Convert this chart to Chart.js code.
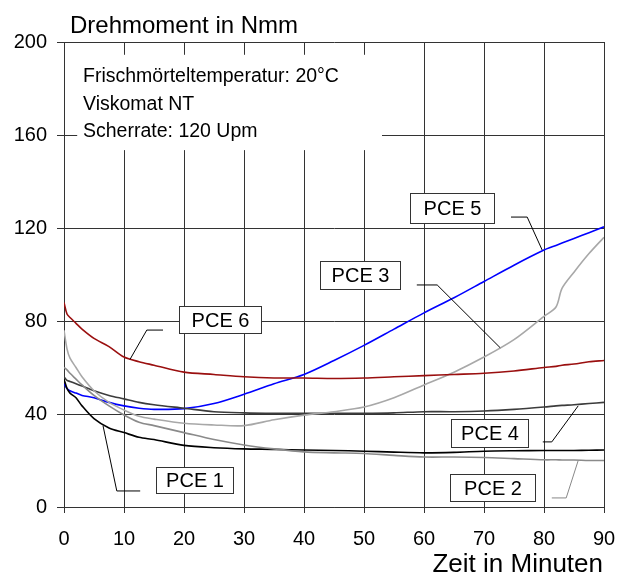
<!DOCTYPE html>
<html lang="de">
<head>
    <meta charset="UTF-8">
    <title>Drehmoment Viskomat</title>
    <script src="https://cdn.jsdelivr.net/npm/chart.js"></script>
    <style>
        body {
            margin: 0;
            background-color: #ffffff;
            font-family: "Liberation Sans", Arial, sans-serif;
        }
        #drehmomentChart {
            display: block;
        }
    </style>
</head>
<body>

<canvas id="drehmomentChart" width="617" height="576"></canvas>

<script>
    // Zeitpunkte in Minuten
    const minuten = [0, 0.5, 1, 2, 3, 5, 7.5, 10, 12.5, 15, 20, 25, 30, 35, 40, 45, 50, 55, 60, 65, 70, 75, 80, 82, 83, 85, 87.5, 90];

    // Drehmoment in Nmm je Fliessmittel
    const pce1 = [55, 51, 49, 47, 43.5, 38, 34, 32, 30, 29, 26.5, 25.5, 25, 24.8, 24.5, 24.3, 24, 23.6, 23.3, 23.5, 24, 24.2, 24.3, 24.3, 24.3, 24.3, 24.4, 24.5];
    const pce2 = [60, 59, 57.5, 55, 52.5, 48, 43.5, 39.6, 36.5, 35, 32, 29, 26.7, 25, 23.7, 23.3, 23, 22.2, 21.5, 21.5, 21.3, 20.8, 20.3, 20.3, 20.2, 20.2, 20, 20];
    const pce3 = [76, 68, 64, 60, 56, 50, 45, 41.7, 39, 37.8, 36, 35.3, 35, 37.5, 39.5, 41, 43, 47, 52.5, 58, 64.5, 72, 82, 86, 94, 101, 109, 116];
    const pce4 = [56, 54.5, 54, 53, 52, 50, 48, 46.5, 45, 44, 42.5, 41, 40.5, 40.3, 40.3, 40.3, 40.3, 40.5, 41, 41, 41.3, 42, 43, 43.5, 43.7, 44, 44.5, 45];
    const pce5 = [53, 51, 50, 49, 48, 47, 45, 43.5, 42.5, 42, 42.3, 44.5, 48.5, 53, 57, 63, 69.5, 76.5, 83.5, 90, 97, 104, 110.5, 112.5, 113.5, 115.5, 118, 120.5];
    const pce6 = [88, 83, 81.5, 79, 76.5, 72.5, 69, 64.5, 62.5, 61, 58, 57, 56, 55.5, 55.5, 55.3, 55.5, 56, 56.5, 57, 57.5, 58.5, 60, 60.5, 61, 61.5, 62.5, 63];

    const xTicks = [0, 10, 20, 30, 40, 50, 60, 70, 80, 90];
    const yTicks = [0, 40, 80, 120, 160, 200];

    const hinweise = ['Frischmörteltemperatur: 20°C', 'Viskomat NT', 'Scherrate: 120 Upm'];

    // Beschriftungen der Kurven (Kasten und Hinweislinie in Achsenwerten)
    const kurvenLabels = [
        { text: 'PCE 5', box: [57.7, 135, 71.7, 122], line: [[74.5, 124.7], [77.2, 124.7], [79.7, 110.5]], color: '#000' },
        { text: 'PCE 3', box: [42.7, 105.8, 56, 93.8], line: [[58.8, 95.5], [62.2, 95.5], [72.7, 68.5]], color: '#000' },
        { text: 'PCE 6', box: [19.2, 86.5, 32.8, 74.8], line: [[16.5, 76.1], [13.8, 76.1], [11, 63.5]], color: '#000' },
        { text: 'PCE 1', box: [15.3, 17.2, 28.2, 6], line: [[12.7, 6.9], [8.8, 6.9], [6.5, 35]], color: '#000' },
        { text: 'PCE 4', box: [64.5, 37.8, 77.3, 25.8], line: [[79.8, 28], [81.3, 28], [85.7, 43.5]], color: '#000' },
        { text: 'PCE 2', box: [64.3, 14.2, 78.5, 2.6], line: [[81.3, 3.9], [83.7, 3.9], [85.7, 20]], color: '#888' }
    ];

    function serie(werte) {
        return werte.map((v, i) => ({ x: minuten[i], y: v }));
    }

    const beschriftung = {
        id: 'beschriftung',
        afterDatasetsDraw(chart) {
            const ctx = chart.ctx;
            const xs = chart.scales.x;
            const ys = chart.scales.y;
            ctx.save();

            // weisser Kasten mit Versuchsangaben
            ctx.fillStyle = '#ffffff';
            const bx1 = xs.getPixelForValue(2.2), by1 = ys.getPixelForValue(194.5);
            const bx2 = xs.getPixelForValue(53), by2 = ys.getPixelForValue(153.5);
            ctx.fillRect(bx1, by1, bx2 - bx1, by2 - by1);
            ctx.fillStyle = '#000';
            ctx.font = '19.5px "Liberation Sans", Arial, sans-serif';
            ctx.textAlign = 'left';
            ctx.textBaseline = 'alphabetic';
            hinweise.forEach((t, i) => ctx.fillText(t, 83, 82 + i * 27.5));

            // Kurvenbeschriftungen
            kurvenLabels.forEach(l => {
                ctx.strokeStyle = l.color;
                ctx.lineWidth = 1;
                ctx.beginPath();
                l.line.forEach((p, i) => {
                    const px = xs.getPixelForValue(p[0]);
                    const py = ys.getPixelForValue(p[1]);
                    if (i === 0) ctx.moveTo(px, py); else ctx.lineTo(px, py);
                });
                ctx.stroke();

                const x1 = Math.round(xs.getPixelForValue(l.box[0])) + 0.5;
                const y1 = Math.round(ys.getPixelForValue(l.box[1])) + 0.5;
                const x2 = Math.round(xs.getPixelForValue(l.box[2])) + 0.5;
                const y2 = Math.round(ys.getPixelForValue(l.box[3])) + 0.5;
                ctx.fillStyle = '#ffffff';
                ctx.fillRect(x1, y1, x2 - x1, y2 - y1);
                ctx.strokeStyle = '#333';
                ctx.strokeRect(x1, y1, x2 - x1, y2 - y1);
                ctx.fillStyle = '#000';
                ctx.font = '20px "Liberation Sans", Arial, sans-serif';
                ctx.textAlign = 'center';
                ctx.textBaseline = 'middle';
                ctx.fillText(l.text, (x1 + x2) / 2, (y1 + y2) / 2 + 1);
            });

            // Achsentitel
            ctx.fillStyle = '#000';
            ctx.textBaseline = 'alphabetic';
            ctx.font = '24px "Liberation Sans", Arial, sans-serif';
            ctx.textAlign = 'left';
            ctx.fillText('Drehmoment in Nmm', 70, 33);
            ctx.font = '26px "Liberation Sans", Arial, sans-serif';
            ctx.textAlign = 'right';
            ctx.fillText('Zeit in Minuten', 603, 572);
            ctx.restore();
        }
    };

    const ctx = document.getElementById('drehmomentChart').getContext('2d');
    new Chart(ctx, {
        type: 'line',
        data: {
            datasets: [
                { label: 'PCE 6', data: serie(pce6), borderColor: '#9a0f0f' },
                { label: 'PCE 3', data: serie(pce3), borderColor: '#a8a8a8' },
                { label: 'PCE 2', data: serie(pce2), borderColor: '#8a8a8a' },
                { label: 'PCE 4', data: serie(pce4), borderColor: '#3c3c3c' },
                { label: 'PCE 1', data: serie(pce1), borderColor: '#000000' },
                { label: 'PCE 5', data: serie(pce5), borderColor: '#0000ff' }
            ]
        },
        options: {
            responsive: false,
            animation: false,
            layout: {
                padding: { top: 42, right: 13, left: 0, bottom: 0 }
            },
            elements: {
                point: { radius: 0 },
                line: { borderWidth: 1.6, tension: 0.3, fill: false }
            },
            plugins: {
                legend: { display: false },
                tooltip: { enabled: false }
            },
            scales: {
                x: {
                    type: 'linear',
                    min: 0,
                    max: 90,
                    afterBuildTicks: s => { s.ticks = xTicks.map(v => ({ value: v })); },
                    afterFit: s => { s.height = 69; s.paddingLeft = 0; s.paddingRight = 0; },
                    grid: { color: '#333', lineWidth: 1, tickLength: 6, tickColor: '#333' },
                    border: { color: '#333', width: 1 },
                    ticks: {
                        autoSkip: false,
                        maxRotation: 0,
                        padding: 14,
                        color: '#000',
                        font: { family: '"Liberation Sans", Arial, sans-serif', size: 20 }
                    }
                },
                y: {
                    min: 0,
                    max: 200,
                    afterBuildTicks: s => { s.ticks = yTicks.map(v => ({ value: v })); },
                    afterFit: s => { s.width = 64; s.paddingTop = 0; s.paddingBottom = 0; },
                    grid: { color: '#333', lineWidth: 1, tickLength: 7, tickColor: '#333' },
                    border: { color: '#333', width: 1 },
                    ticks: {
                        padding: 10,
                        color: '#000',
                        font: { family: '"Liberation Sans", Arial, sans-serif', size: 20 }
                    }
                }
            }
        },
        plugins: [beschriftung]
    });
</script>

</body>
</html>
